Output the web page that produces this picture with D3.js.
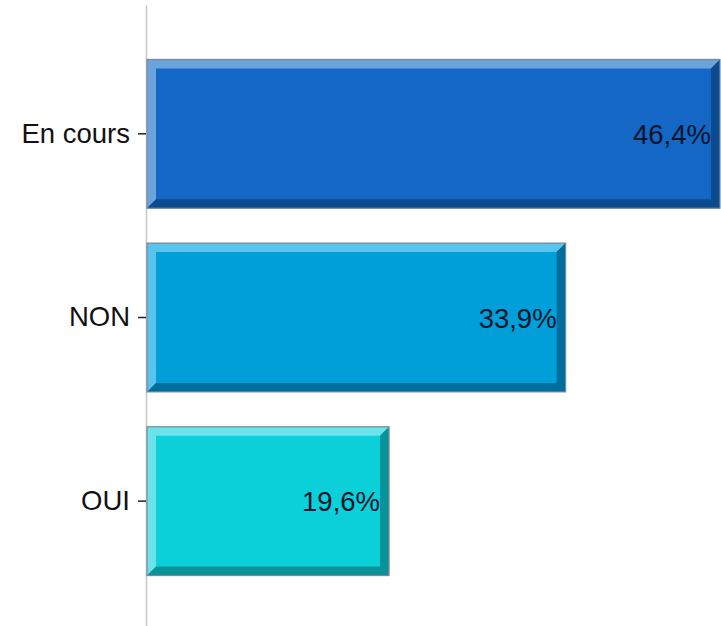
<!DOCTYPE html>
<html lang="fr">
<head>
<meta charset="UTF-8">
<script src="https://cdn.jsdelivr.net/npm/d3@7"></script>
<style>
  body { margin: 0; background: #fff; }
  text { font-family: "Liberation Sans", Arial, sans-serif; }
</style>
</head>
<body>
<script>
// donnees
var categories = ["En cours", "NON", "OUI"];
var valeurs = [46.4, 33.9, 19.6];
var couleurs = ["#1467c4", "#009fd9", "#0bd0d9"];
var clairs = ["#6ba4dd", "#5ac4ec", "#6be3ea"];
var sombres = ["#0b4a8f", "#006e9c", "#08939a"];

var W = 721, H = 626;
var svg = d3.select("body").append("svg").attr("width", W).attr("height", H);

var x = d3.scaleLinear().domain([0, 46.4]).range([147, 720]);
var y = d3.scaleBand().domain(categories).range([42, 593]).paddingInner(0.19).paddingOuter(0.095);

// axe vertical
svg.append("line")
  .attr("x1", 146.5).attr("x2", 146.5).attr("y1", 5).attr("y2", H)
  .attr("stroke", "#c8c8c8").attr("stroke-width", 1.5);

var bev = 9;
var g = svg.selectAll("g.barre").data(categories).enter().append("g").attr("class", "barre");

g.each(function (c, i) {
  var s = d3.select(this);
  var x0 = x(0), x1 = x(valeurs[i]), y0 = y(c), y1 = y(c) + y.bandwidth();
  // fond
  s.append("rect").attr("x", x0).attr("y", y0).attr("width", x1 - x0).attr("height", y1 - y0).attr("fill", couleurs[i]);
  // biseau clair (haut, gauche)
  s.append("path").attr("fill", clairs[i])
    .attr("d", "M" + x0 + "," + y0 + "L" + x1 + "," + y0 + "L" + (x1 - bev) + "," + (y0 + bev) +
      "L" + (x0 + bev) + "," + (y0 + bev) + "L" + (x0 + bev) + "," + (y1 - bev) + "L" + x0 + "," + y1 + "Z");
  // biseau sombre (bas, droite)
  s.append("path").attr("fill", sombres[i])
    .attr("d", "M" + x1 + "," + y0 + "L" + x1 + "," + y1 + "L" + x0 + "," + y1 + "L" + (x0 + bev) + "," + (y1 - bev) +
      "L" + (x1 - bev) + "," + (y1 - bev) + "L" + (x1 - bev) + "," + (y0 + bev) + "Z");
  // contour
  s.append("rect").attr("x", x0).attr("y", y0).attr("width", x1 - x0).attr("height", y1 - y0)
    .attr("fill", "none").attr("stroke", "#7a8a9c").attr("stroke-width", 1.2);
  // etiquette de valeur
  s.append("text").attr("x", x1 - 9).attr("y", y0 + y.bandwidth() / 2 + 10)
    .attr("text-anchor", "end").attr("font-size", 27.5).attr("fill", "#0a1428")
    .text(String(valeurs[i]).replace(".", ",") + "%");
});

// axe des categories
var axe = svg.append("g").attr("transform", "translate(146,0)")
  .call(d3.axisLeft(y).tickSize(8).tickPadding(8));
axe.select(".domain").remove();
axe.selectAll(".tick line").attr("stroke", "#222").attr("stroke-width", 1.5);
axe.selectAll(".tick text").attr("font-size", 27.5).attr("fill", "#111")
  .attr("font-family", "'Liberation Sans', Arial, sans-serif");
</script>
</body>
</html>
